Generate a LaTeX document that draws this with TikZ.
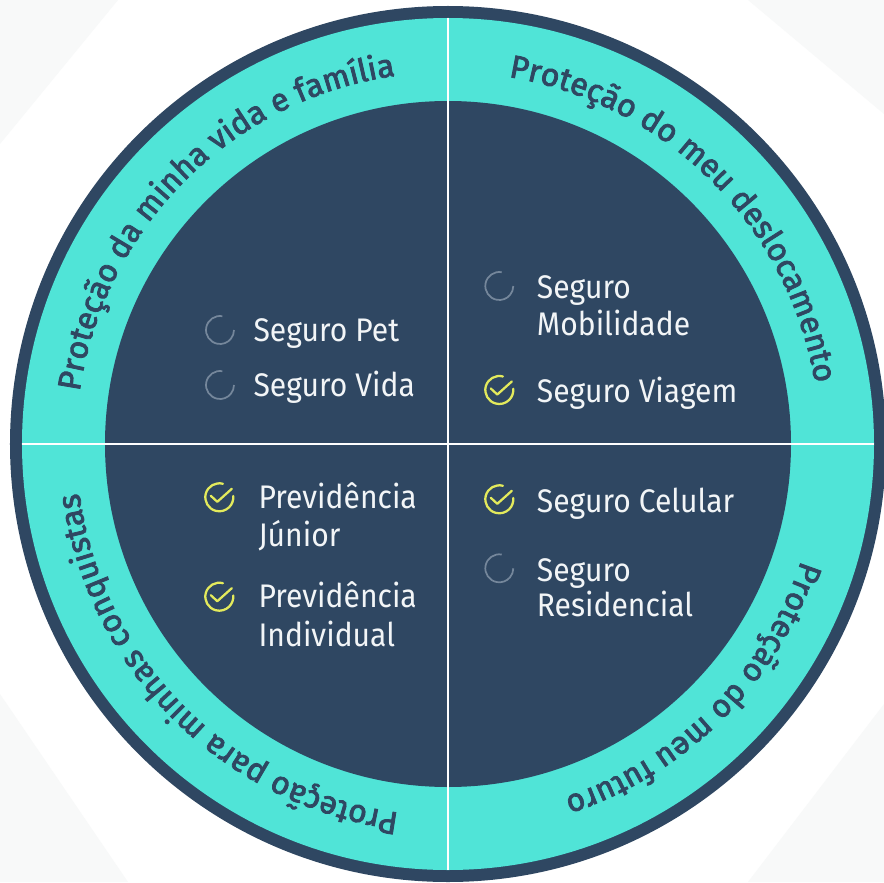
\documentclass[tikz,border=0pt]{standalone}
\usepackage{fontspec}
\setmainfont{Fira Sans}
\newfontfamily\itemfont[FakeStretch=0.92]{Fira Sans}
\newfontfamily\ringfont[FakeBold=2.5]{Fira Sans}
\usetikzlibrary{decorations.text}
\definecolor{darknavy}{HTML}{2F4762}
\definecolor{ringteal}{HTML}{50E4D7}
\definecolor{checkyellow}{HTML}{E3EA5C}
\definecolor{spingray}{HTML}{75879B}
\definecolor{itemwhite}{HTML}{F2F5F7}
\definecolor{bgshade}{HTML}{F8F9F9}
\tikzset{
  item/.style={anchor=base west, inner sep=0pt, text=itemwhite,
    font=\itemfont\fontsize{24.5}{24.5}\selectfont},
  spinner/.pic={\draw[spingray, line width=1.3pt] (80:14) arc[start angle=80, end angle=360, radius=14];},
  checkicon/.pic={
    \draw[checkyellow, line width=1.7pt, line cap=round] (75:14) arc[start angle=75, end angle=365, radius=14];
    \draw[checkyellow, line width=1.7pt, line cap=round, line join=round] (-8.5,1.5) -- (-2,-4.5) -- (12.5,8.5);},
  ringtext/.style={decorate, decoration={text along path, text align=center,
    text={|\ringfont\fontsize{24}{24}\selectfont\color{darknavy}|#1}}},
  divider/.style={white, line width=1.8pt},
}
\begin{document}
\begin{tikzpicture}[x=0.75pt,y=0.75pt]
\useasboundingbox (-448,-438) rectangle (436,444);
\fill[white] (-448,-438) rectangle (436,444);
% faint background facets
\fill[bgshade] (-448,444) -- (-330,444) -- (-448,300) -- cycle;
\fill[bgshade] (436,444) -- (300,444) -- (436,330) -- cycle;
\fill[bgshade] (-448,-438) -- (-448,-250) -- (-320,-438) -- cycle;
\fill[bgshade] (436,-438) -- (436,-260) -- (300,-438) -- cycle;
% disc
\fill[darknavy] (0,0) circle[radius=438];
\fill[ringteal] (0,0) circle[radius=426];
\fill[darknavy] (0,0) circle[radius=343];
\coordinate (vtop) at (0,426);
\coordinate (vbot) at (0,-426);
\coordinate (hleft) at (-426,0);
\coordinate (hright) at (426,0);
\draw[divider] (vtop) -- (vbot);
\draw[divider] (hleft) -- (hright);
% ring labels
\path[ringtext={Proteção da minha vida e família}] (195:372) arc[start angle=195, end angle=75, radius=372];
\path[ringtext={Proteção do meu deslocamento}] (105:372) arc[start angle=105, end angle=-15, radius=372];
\path[ringtext={Proteção do meu futuro}] (15:372) arc[start angle=15, end angle=-105, radius=372];
\path[ringtext={Proteção para minhas conquistas}] (-75:372) arc[start angle=-75, end angle=-195, radius=372];
% top-left quadrant
\pic (i1) at (-228,114) {spinner};
\node[item] (t1) at (-194.7,102.3) {Seguro Pet};
\pic (i2) at (-228,59) {spinner};
\node[item] (t2) at (-194.7,47.3) {Seguro Vida};
% top-right quadrant
\pic (i3) at (51.3,158) {spinner};
\node[item] (t3a) at (88.7,145.7) {Seguro};
\node[item] (t3b) at (88.7,109) {Mobilidade};
\pic (i4) at (51.3,54) {checkicon};
\node[item] (t4) at (88.7,41.3) {Seguro Viagem};
% bottom-left quadrant
\pic (i5) at (-228.7,-53.3) {checkicon};
\node[item] (t5a) at (-189.7,-64.3) {Previdência};
\node[item] (t5b) at (-189.7,-102.7) {Júnior};
\pic (i6) at (-228.7,-152.7) {checkicon};
\node[item] (t6a) at (-189.7,-163.3) {Previdência};
\node[item] (t6b) at (-189.7,-202.7) {Individual};
% bottom-right quadrant
\pic (i7) at (51.3,-55.3) {checkicon};
\node[item] (t7) at (88.7,-68.7) {Seguro Celular};
\pic (i8) at (51.3,-124.3) {spinner};
\node[item] (t8a) at (88.7,-137.7) {Seguro};
\node[item] (t8b) at (88.7,-172.7) {Residencial};
\end{tikzpicture}
\end{document}
